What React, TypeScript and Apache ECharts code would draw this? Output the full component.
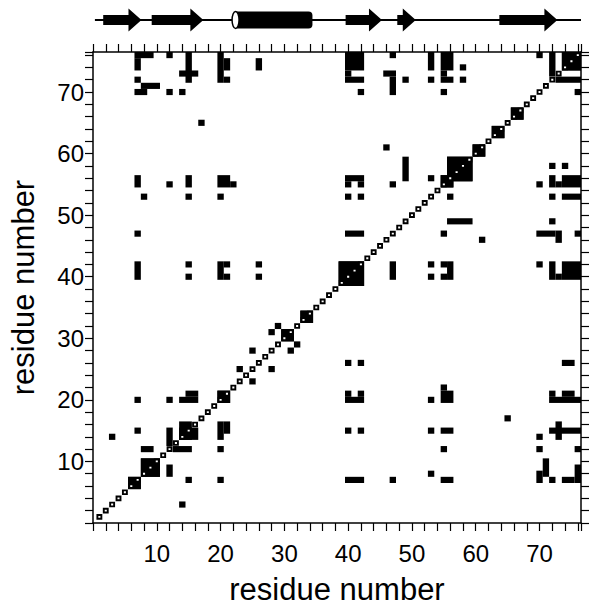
import React, { useEffect, useRef } from 'react';
import * as echarts from 'echarts';

// residues on the diagonal (self contacts)
const residues = [
  1, 2, 3, 4, 5, 6, 7, 8, 9, 10, 11, 12, 13, 14, 15, 16, 17, 18, 19, 20,
  21, 22, 23, 24, 25, 26, 27, 28, 29, 30, 31, 32, 33, 34, 35, 36, 37, 38, 39, 40,
  41, 42, 43, 44, 45, 46, 47, 48, 49, 50, 51, 52, 53, 54, 55, 56, 57, 58, 59, 60,
  61, 62, 63, 64, 65, 66, 67, 68, 69, 70, 71, 72, 73, 74, 75, 76,
];

// secondary structure (start, end in residue units)
const strands = [
  [1.6, 7.6],
  [9.2, 17.3],
  [39.6, 45.3],
  [47.7, 50.6],
  [63.7, 72.8],
];
const helices = [[21.8, 34.4]];
const chainExtent = [[0.3, 76.5]];

// long-range contacts, upper triangle: [x1, x2, y1, y2] residue ranges
const contactBlocks = [
  [7, 9, 76, 76], [7, 7, 74, 75], [7, 7, 72, 72], [8, 10, 71, 71], [7, 8, 70, 70],
  [12, 12, 76, 76], [12, 12, 70, 70], [14, 14, 70, 70], [15, 15, 72, 76], [14, 16, 73, 73],
  [20, 20, 72, 76], [21, 21, 74, 75], [21, 21, 72, 72], [26, 26, 74, 75],
  [40, 42, 74, 76], [40, 40, 73, 73], [40, 42, 72, 72], [42, 42, 70, 70],
  [47, 47, 76, 76], [46, 47, 73, 73], [47, 47, 70, 72], [49, 49, 72, 72],
  [53, 53, 74, 76], [53, 53, 72, 72], [55, 56, 74, 76], [55, 55, 73, 73], [55, 56, 72, 72],
  [58, 58, 74, 74], [58, 58, 72, 72], [55, 55, 70, 70], [70, 70, 76, 76], [72, 72, 73, 76],
  [17, 17, 65, 65], [46, 46, 61, 61], [49, 49, 56, 59],
  [7, 7, 55, 56], [12, 12, 55, 55], [15, 15, 55, 56], [20, 21, 55, 56], [22, 22, 55, 55],
  [8, 8, 53, 53], [15, 15, 53, 53], [20, 20, 53, 53],
  [40, 42, 56, 56], [40, 40, 55, 55], [42, 42, 55, 55], [40, 40, 53, 53], [42, 42, 53, 53],
  [47, 47, 55, 55], [53, 53, 56, 56],
  [7, 7, 47, 47], [40, 42, 47, 47],
  [7, 7, 40, 42], [15, 15, 42, 42], [15, 15, 40, 40], [20, 20, 40, 42], [21, 21, 40, 40],
  [21, 21, 42, 42], [26, 26, 42, 42], [26, 26, 40, 40],
  [23, 23, 25, 25], [25, 25, 28, 28], [28, 28, 31, 31], [29, 29, 32, 32],
  [7, 7, 20, 20], [12, 12, 20, 20], [14, 16, 20, 20], [15, 16, 21, 21],
  [7, 7, 15, 15], [8, 9, 12, 12], [12, 12, 13, 15], [3, 3, 14, 14],
];

// short-range blocks next to the diagonal
const localBlocks = [
  [6, 7, 6, 7], [8, 10, 8, 10], [14, 15, 14, 16], [20, 21, 20, 21], [30, 31, 30, 31],
  [33, 34, 33, 34], [39, 42, 39, 42], [55, 56, 55, 56], [56, 59, 56, 59], [60, 61, 60, 61],
  [63, 64, 63, 64], [66, 67, 66, 67], [74, 76, 74, 76],
];

const tickLabels = [10, 20, 30, 40, 50, 60, 70];

const FONT = "'Liberation Sans', Arial, Helvetica, sans-serif";

export default function App() {
  const ref = useRef<HTMLDivElement>(null);

  useEffect(() => {
    document.body.style.margin = '0';
    if (!ref.current) return;
    const chart = echarts.init(ref.current, undefined, { renderer: 'svg' });

    const blocks = contactBlocks.concat(localBlocks);
    const allBlocks = blocks.concat(blocks.map(([x1, x2, y1, y2]) => [y1, y2, x1, x2]));

    const axisCommon = {
      type: 'value' as const,
      min: 0,
      max: 76.5,
      interval: 2,
      splitLine: { show: false },
      axisLine: { show: true, onZero: false, lineStyle: { color: '#000', width: 1.5 } },
      axisTick: { show: true, inside: false, length: 8, lineStyle: { color: '#000', width: 1.2 } },
    };
    const labelStyle = {
      show: true,
      interval: 0,
      color: '#000',
      fontFamily: FONT,
      fontSize: 24,
      formatter: (v: number) => (tickLabels.includes(v) ? String(v) : ''),
    };

    const option = {
      animation: false,
      backgroundColor: '#fff',
      grid: [
        { left: 93, top: 52, width: 488, height: 487 },
        { left: 93, top: 0, width: 488, height: 40 },
      ],
      xAxis: [
        {
          ...axisCommon,
          gridIndex: 0,
          position: 'bottom',
          axisLabel: { ...labelStyle, margin: 18 },
          name: 'residue number',
          nameLocation: 'middle',
          nameGap: 51,
          nameTextStyle: { color: '#000', fontFamily: FONT, fontSize: 31 },
        },
        { ...axisCommon, gridIndex: 0, position: 'top', axisLabel: { show: false } },
        { type: 'value', gridIndex: 1, min: 0, max: 76.5, show: false },
      ],
      yAxis: [
        {
          ...axisCommon,
          gridIndex: 0,
          position: 'left',
          axisLabel: { ...labelStyle, margin: 9 },
          name: 'residue number',
          nameLocation: 'middle',
          nameGap: 54,
          nameRotate: 90,
          nameTextStyle: { color: '#000', fontFamily: FONT, fontSize: 31 },
        },
        { ...axisCommon, gridIndex: 0, position: 'right', axisLabel: { show: false } },
        { type: 'value', gridIndex: 1, min: 0, max: 1, show: false },
      ],
      series: [
        {
          type: 'custom',
          name: 'contacts',
          xAxisIndex: 0,
          yAxisIndex: 0,
          data: allBlocks,
          encode: { x: [0, 1], y: [2, 3] },
          renderItem: (_p: any, api: any) => {
            const a = api.coord([api.value(0) - 0.5, api.value(3) + 0.5]);
            const b = api.coord([api.value(1) + 0.5, api.value(2) - 0.5]);
            return {
              type: 'rect',
              shape: { x: a[0], y: a[1], width: b[0] - a[0], height: b[1] - a[1] },
              style: { fill: '#000' },
            };
          },
        },
        {
          type: 'custom',
          name: 'diagonal',
          xAxisIndex: 0,
          yAxisIndex: 0,
          data: residues.map((r) => [r, r]),
          encode: { x: 0, y: 1 },
          renderItem: (_p: any, api: any) => {
            const a = api.coord([api.value(0) - 0.5, api.value(1) + 0.5]);
            const b = api.coord([api.value(0) + 0.5, api.value(1) - 0.5]);
            const inset = 1.2;
            return {
              type: 'rect',
              shape: {
                x: a[0] + inset,
                y: a[1] + inset,
                width: b[0] - a[0] - 2 * inset,
                height: b[1] - a[1] - 2 * inset,
              },
              style: { fill: '#fff', stroke: '#000', lineWidth: 1.9 },
            };
          },
        },
        {
          type: 'custom',
          name: 'chain',
          xAxisIndex: 2,
          yAxisIndex: 2,
          data: chainExtent,
          encode: { x: [0, 1] },
          renderItem: (_p: any, api: any) => {
            const a = api.coord([api.value(0), 0.5]);
            const b = api.coord([api.value(1), 0.5]);
            return {
              type: 'line',
              shape: { x1: a[0], y1: a[1], x2: b[0], y2: b[1] },
              style: { stroke: '#000', lineWidth: 2 },
            };
          },
        },
        {
          type: 'custom',
          name: 'helix',
          xAxisIndex: 2,
          yAxisIndex: 2,
          data: helices,
          encode: { x: [0, 1] },
          renderItem: (_p: any, api: any) => {
            const a = api.coord([api.value(0), 0.5]);
            const b = api.coord([api.value(1), 0.5]);
            const h = 17;
            return {
              type: 'group',
              children: [
                {
                  type: 'rect',
                  shape: { x: a[0] + 3.5, y: a[1] - h / 2, width: b[0] - a[0] - 3.5, height: h, r: [0, 4, 4, 0] },
                  style: { fill: '#000' },
                },
                {
                  type: 'ellipse',
                  shape: { cx: a[0] + 3.5, cy: a[1], rx: 3.5, ry: h / 2 },
                  style: { fill: '#fff', stroke: '#000', lineWidth: 1.5 },
                },
              ],
            };
          },
        },
        {
          type: 'custom',
          name: 'strands',
          xAxisIndex: 2,
          yAxisIndex: 2,
          data: strands,
          encode: { x: [0, 1] },
          renderItem: (_p: any, api: any) => {
            const a = api.coord([api.value(0), 0.5]);
            const b = api.coord([api.value(1), 0.5]);
            const c = a[1];
            const head = 13;
            const bh = 5;
            const hh = 11.5;
            const xh = b[0] - head;
            return {
              type: 'polygon',
              shape: {
                points: [
                  [a[0], c - bh], [xh, c - bh], [xh, c - hh], [b[0], c],
                  [xh, c + hh], [xh, c + bh], [a[0], c + bh],
                ],
              },
              style: { fill: '#000' },
            };
          },
        },
      ],
    };

    chart.setOption(option as any);
    return () => chart.dispose();
  }, []);

  return <div ref={ref} style={{ width: 597, height: 610 }} />;
}
